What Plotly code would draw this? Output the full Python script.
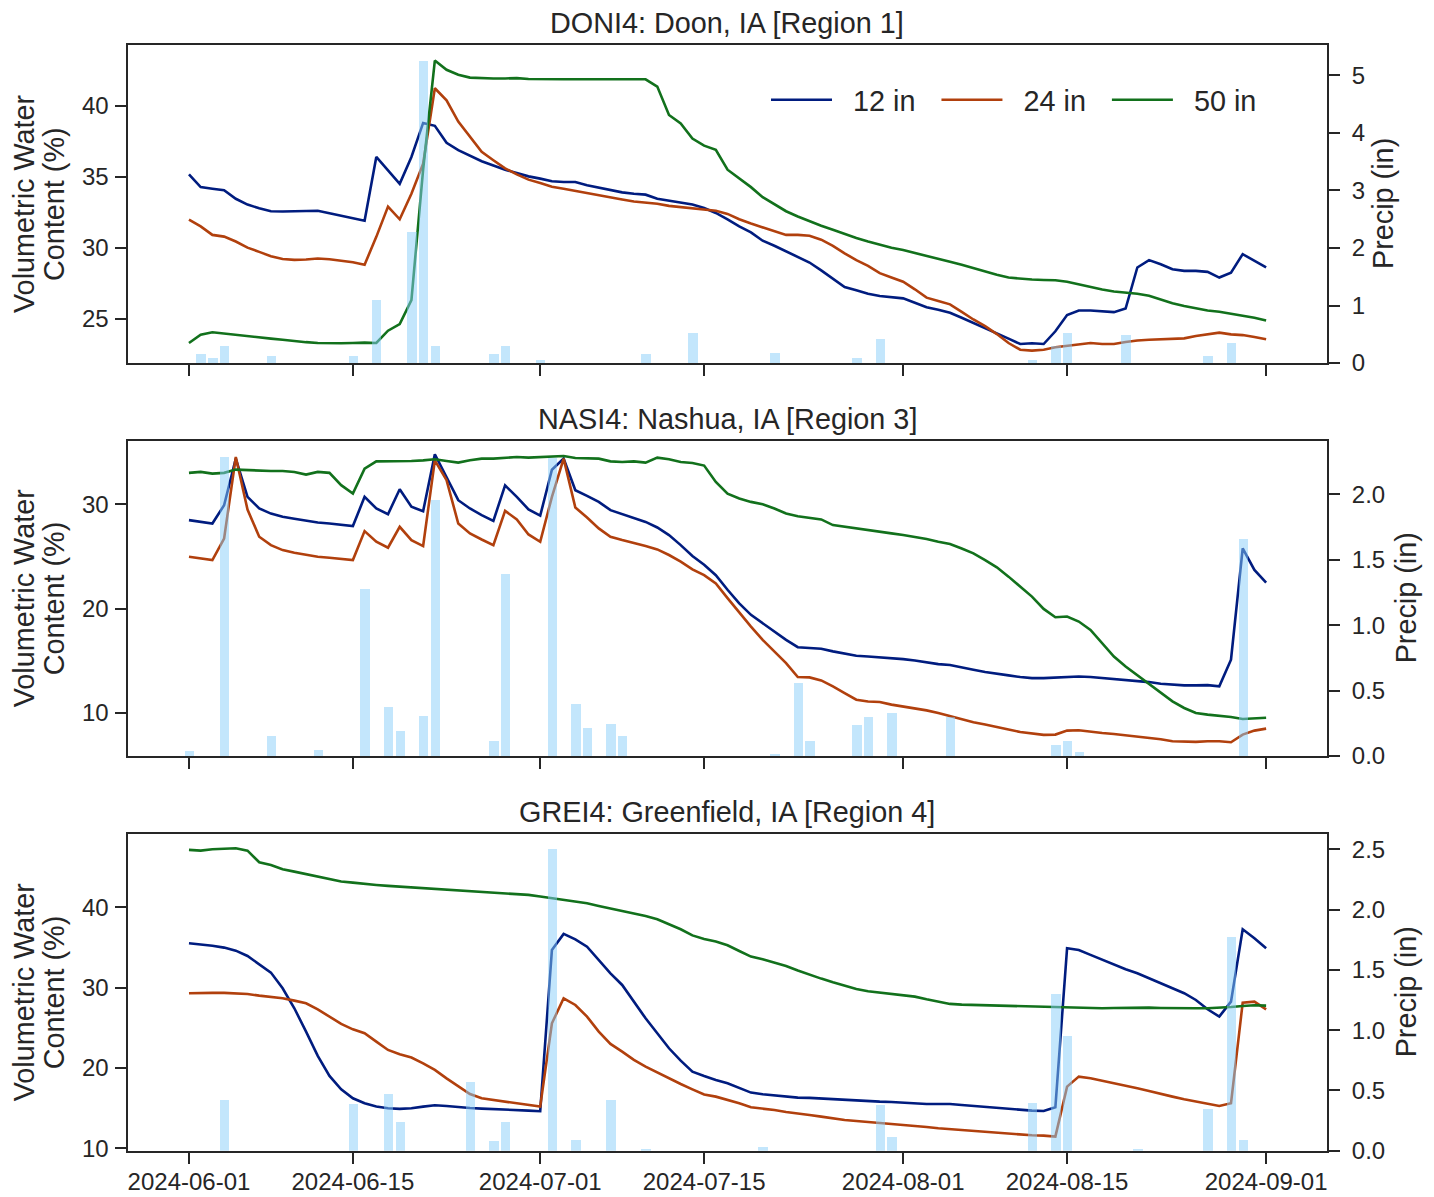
import pandas as pd
import plotly.graph_objects as go

# ---------------- data ----------------
dates = pd.date_range("2024-06-01", "2024-09-01", freq="D")
depth_labels = ["12 in", "24 in", "50 in"]
line_colors = ["#001C7F", "#B1400D", "#12711C"]

titles = ["DONI4: Doon, IA [Region 1]", "NASI4: Nashua, IA [Region 3]", "GREI4: Greenfield, IA [Region 4]"]

doni_12 = [35.17, 34.27, 34.16, 34.05, 33.45, 33.04, 32.78, 32.57, 32.55, 32.57,
           32.62, 32.6, 32.43, 32.27, 32.1, 31.9, 36.4, 35.46, 34.5, 36.4,
           38.8, 38.6, 37.4, 36.88, 36.5, 36.1, 35.8, 35.5, 35.27, 35.03,
           34.87, 34.68, 34.63, 34.63, 34.4, 34.23, 34.1, 33.9, 33.8, 33.74,
           33.45, 33.3, 33.16, 33.04, 32.8, 32.45, 32.0, 31.5, 31.08, 30.49,
           30.13, 29.73, 29.35, 28.95, 28.4, 27.84, 27.22, 27.0, 26.75, 26.59,
           26.52, 26.42, 26.11, 25.8, 25.62, 25.4, 25.05, 24.69, 24.34, 23.98,
           23.58, 23.2, 23.25, 23.2, 24.1, 25.24, 25.57, 25.57, 25.52, 25.45,
           25.7, 28.6, 29.12, 28.83, 28.48, 28.36, 28.36, 28.29, 27.89, 28.24,
           29.54, 29.07, 28.6]
doni_24 = [31.98, 31.5, 30.9, 30.78, 30.43, 30.0, 29.7, 29.4, 29.2, 29.14,
           29.16, 29.23, 29.18, 29.1, 28.97, 28.8, 30.76, 32.9, 32.0, 33.8,
           35.93, 41.25, 40.4, 38.9, 37.8, 36.76, 36.17, 35.6, 35.17, 34.8,
           34.56, 34.3, 34.16, 34.0, 33.85, 33.7, 33.56, 33.4, 33.26, 33.19,
           33.1, 32.95, 32.86, 32.8, 32.72, 32.6, 32.38, 32.0, 31.7, 31.44,
           31.15, 30.9, 30.9, 30.84, 30.56, 30.13, 29.6, 29.12, 28.72, 28.2,
           27.9, 27.6, 27.06, 26.47, 26.23, 26.0, 25.47, 24.93, 24.46, 23.9,
           23.27, 22.8, 22.73, 22.8, 22.97, 23.08, 23.2, 23.27, 23.2, 23.2,
           23.34, 23.45, 23.5, 23.54, 23.54, 23.6, 23.77, 23.9, 24.0, 23.88,
           23.83, 23.7, 23.54]
doni_50 = [23.27, 23.86, 24.03, 23.93, 23.87, 23.77, 23.68, 23.58, 23.5, 23.4,
           23.33, 23.27, 23.25, 23.25, 23.27, 23.3, 23.27, 24.14, 24.6, 26.3,
           35.5, 43.2, 42.55, 42.2, 42.0, 41.96, 41.94, 41.94, 41.96, 41.9,
           41.88, 41.88, 41.88, 41.88, 41.88, 41.88, 41.88, 41.88, 41.88, 41.88,
           41.37, 39.36, 38.77, 37.7, 37.2, 36.9, 35.5, 34.87, 34.27, 33.56,
           33.04, 32.57, 32.2, 31.86, 31.55, 31.27, 30.96, 30.68, 30.44, 30.2,
           30.0, 29.83, 29.61, 29.43, 29.19, 29.0, 28.79, 28.55, 28.31, 28.08,
           27.89, 27.8, 27.75, 27.72, 27.7, 27.6, 27.41, 27.18, 27.04, 26.9,
           26.82, 26.75, 26.6, 26.35, 26.07, 25.88, 25.71, 25.57, 25.48, 25.34,
           25.24, 25.05, 24.86]
doni_precip_dates = ["2024-06-02", "2024-06-03", "2024-06-04", "2024-06-08", "2024-06-15",
                     "2024-06-17", "2024-06-20", "2024-06-21", "2024-06-22", "2024-06-27",
                     "2024-06-28", "2024-07-01", "2024-07-10", "2024-07-14", "2024-07-21",
                     "2024-07-28", "2024-07-30", "2024-08-12", "2024-08-14", "2024-08-15",
                     "2024-08-20", "2024-08-27", "2024-08-29"]
doni_precip = [0.15, 0.08, 0.3, 0.13, 0.12, 1.1, 2.28, 5.25, 0.3, 0.16,
               0.3, 0.06, 0.16, 0.53, 0.18, 0.09, 0.41, 0.06, 0.29, 0.53,
               0.48, 0.13, 0.34]

nasi_12 = [28.47, 28.31, 28.15, 29.9, 34.36, 30.7, 29.59, 29.1, 28.79, 28.6,
           28.4, 28.25, 28.15, 28.03, 27.9, 30.7, 29.59, 29.04, 31.43, 29.75,
           29.33, 34.78, 32.6, 30.38, 29.59, 28.95, 28.4, 31.8, 30.7, 29.5,
           28.9, 33.3, 34.36, 31.34, 30.8, 30.22, 29.43, 29.04, 28.7, 28.3,
           27.77, 27.04, 26.08, 25.03, 24.2, 23.2, 21.8, 20.5, 19.4, 18.6,
           17.8, 17.0, 16.3, 16.2, 16.15, 15.9, 15.67, 15.48, 15.41, 15.35,
           15.25, 15.16, 15.03, 14.84, 14.68, 14.6, 14.4, 14.14, 13.92, 13.73,
           13.6, 13.44, 13.34, 13.34, 13.4, 13.5, 13.5, 13.44, 13.34, 13.25,
           13.18, 13.09, 12.96, 12.8, 12.7, 12.64, 12.64, 12.67, 12.55, 15.1,
           25.76, 23.7, 22.48]
nasi_24 = [24.97, 24.8, 24.65, 26.7, 34.52, 29.49, 26.88, 26.08, 25.6, 25.35,
           25.13, 24.97, 24.87, 24.78, 24.65, 27.42, 26.4, 25.83, 27.83, 26.56,
           25.99, 34.2, 32.3, 28.15, 27.2, 26.62, 26.08, 29.36, 28.54, 27.1,
           26.4, 30.7, 34.36, 29.68, 28.73, 27.68, 26.88, 26.56, 26.3, 25.99,
           25.67, 25.13, 24.49, 23.76, 23.2, 22.4, 21.0, 19.6, 18.28, 17.0,
           15.89, 14.78, 13.44, 13.41, 13.12, 12.55, 11.9, 11.27, 11.1, 11.05,
           10.8, 10.64, 10.48, 10.25, 10.0, 9.68, 9.43, 9.11, 8.9, 8.63,
           8.41, 8.18, 8.03, 7.9, 7.93, 8.31, 8.34, 8.25, 8.09, 7.99,
           7.87, 7.77, 7.64, 7.48, 7.29, 7.23, 7.23, 7.29, 7.29, 7.2,
           7.93, 8.31, 8.5]
nasi_50 = [33.0, 33.09, 32.93, 33.0, 33.31, 33.25, 33.18, 33.18, 33.18, 33.09,
           32.83, 33.09, 33.0, 31.82, 31.02, 33.4, 34.1, 34.1, 34.14, 34.14,
           34.2, 34.3, 34.14, 33.98, 34.2, 34.36, 34.36, 34.46, 34.52, 34.46,
           34.52, 34.59, 34.62, 34.43, 34.43, 34.36, 34.1, 34.04, 34.1, 33.98,
           34.46, 34.3, 34.04, 33.95, 33.7, 32.13, 31.0, 30.54, 30.22, 30.0,
           29.59, 29.11, 28.85, 28.66, 28.54, 28.0, 27.83, 27.64, 27.52, 27.36,
           27.2, 27.04, 26.88, 26.66, 26.4, 26.18, 25.76, 25.29, 24.65, 23.95,
           23.06, 22.1, 21.15, 19.97, 19.17, 19.24, 18.76, 17.96, 16.69, 15.41,
           14.46, 13.6, 12.8, 11.91, 11.11, 10.48, 10.0, 9.84, 9.75, 9.62,
           9.43, 9.52, 9.55]
nasi_precip_dates = ["2024-06-01", "2024-06-04", "2024-06-08", "2024-06-12", "2024-06-16",
                     "2024-06-18", "2024-06-19", "2024-06-21", "2024-06-22", "2024-06-27",
                     "2024-06-28", "2024-07-02", "2024-07-04", "2024-07-05", "2024-07-07",
                     "2024-07-08", "2024-07-21", "2024-07-23", "2024-07-24", "2024-07-28",
                     "2024-07-29", "2024-07-31", "2024-08-05", "2024-08-14", "2024-08-15",
                     "2024-08-16", "2024-08-30"]
nasi_precip = [0.04, 2.29, 0.155, 0.05, 1.28, 0.38, 0.19, 0.305, 1.96, 0.12,
               1.39, 2.28, 0.40, 0.22, 0.25, 0.155, 0.015, 0.56, 0.12, 0.24,
               0.30, 0.33, 0.30, 0.085, 0.12, 0.035, 1.66]

grei_12 = [35.52, 35.4, 35.2, 34.98, 34.6, 33.94, 32.95, 31.87, 29.92, 27.43,
           24.52, 21.5, 19.0, 17.34, 16.22, 15.6, 15.19, 14.98, 14.9, 14.98,
           15.19, 15.35, 15.27, 15.1, 15.02, 14.94, 14.9, 14.77, 14.73, 14.69,
           14.61, 34.69, 36.68, 36.0, 35.1, 33.44, 31.78, 30.33, 28.26, 26.18,
           24.31, 22.45, 20.91, 19.54, 19.0, 18.5, 18.1, 17.47, 16.93, 16.72,
           16.56, 16.43, 16.31, 16.27, 16.18, 16.1, 16.02, 15.93, 15.89, 15.81,
           15.77, 15.68, 15.6, 15.52, 15.52, 15.52, 15.39, 15.27, 15.1, 14.98,
           14.9, 14.77, 14.69, 14.65, 15.1, 34.9, 34.69, 34.07, 33.44, 32.82,
           32.28, 31.78, 31.16, 30.54, 30.0, 29.3, 28.46, 27.3, 26.39, 28.26,
           37.26, 36.14, 34.9]
grei_24 = [29.29, 29.34, 29.34, 29.34, 29.29, 29.2, 29.0, 28.88, 28.67, 28.38,
           28.05, 27.3, 26.39, 25.48, 24.81, 24.32, 23.28, 22.24, 21.7, 21.29,
           20.58, 19.75, 18.71, 17.68, 16.76, 16.22, 16.02, 15.81, 15.6, 15.39,
           15.19, 25.56, 28.67, 27.84, 26.39, 24.52, 22.99, 22.03, 21.0, 20.17,
           19.42, 18.71, 18.0, 17.34, 16.7, 16.43, 16.04, 15.6, 15.1, 14.94,
           14.77, 14.52, 14.36, 14.15, 13.94, 13.69, 13.53, 13.4, 13.28, 13.2,
           13.07, 12.95, 12.82, 12.66, 12.49, 12.37, 12.28, 12.2, 12.08, 11.95,
           11.83, 11.74, 11.62, 11.58, 11.45, 17.68, 18.92, 18.71, 18.42, 18.09,
           17.8, 17.47, 17.14, 16.76, 16.43, 16.1, 15.81, 15.52, 15.27, 15.6,
           28.13, 28.26, 27.3]
grei_50 = [47.14, 47.05, 47.22, 47.3, 47.34, 47.05, 45.6, 45.27, 44.73, 44.44,
           44.15, 43.82, 43.49, 43.2, 43.07, 42.9, 42.78, 42.66, 42.57, 42.45,
           42.37, 42.28, 42.2, 42.12, 42.03, 41.95, 41.87, 41.78, 41.7, 41.54,
           41.33, 41.12, 41.0, 40.79, 40.5, 40.17, 39.88, 39.59, 39.25, 38.92,
           38.51, 37.93, 37.26, 36.5, 36.06, 35.73, 35.27, 34.56, 33.86, 33.53,
           33.15, 32.7, 32.12, 31.58, 31.12, 30.66, 30.25, 29.83, 29.54, 29.38,
           29.29, 29.13, 28.88, 28.55, 28.22, 27.97, 27.88, 27.84, 27.8, 27.72,
           27.68, 27.63, 27.59, 27.55, 27.55, 27.51, 27.47, 27.43, 27.43, 27.47,
           27.51, 27.51, 27.51, 27.47, 27.43, 27.43, 27.43, 27.43, 27.47, 27.59,
           27.72, 27.8, 27.76]
grei_precip_dates = ["2024-06-04", "2024-06-15", "2024-06-18", "2024-06-19", "2024-06-25",
                     "2024-06-27", "2024-06-28", "2024-07-02", "2024-07-04", "2024-07-07",
                     "2024-07-10", "2024-07-20", "2024-07-30", "2024-07-31", "2024-08-12",
                     "2024-08-14", "2024-08-15", "2024-08-21", "2024-08-27", "2024-08-29",
                     "2024-08-30"]
grei_precip = [0.42, 0.39, 0.47, 0.24, 0.57, 0.08, 0.24, 2.5, 0.09, 0.42,
               0.01, 0.03, 0.38, 0.11, 0.395, 1.3, 0.95, 0.015, 0.345, 1.77,
               0.09]

x_tick_vals = ["2024-06-01", "2024-06-15", "2024-07-01", "2024-07-15",
               "2024-08-01", "2024-08-15", "2024-09-01"]
left_ticks = [[25, 30, 35, 40], [10, 20, 30], [10, 20, 30, 40]]
right_ticks = [[0, 1, 2, 3, 4, 5], [0, 0.5, 1.0, 1.5, 2.0], [0, 0.5, 1.0, 1.5, 2.0, 2.5]]
right_formats = ["d", ".1f", ".1f"]
left_ranges = [[21.86, 44.3], [5.88, 36.08], [9.7, 49.12]]
right_ranges = [[0, 5.53], [0, 2.41], [0, 2.627]]

stations = [
    (doni_12, doni_24, doni_50, doni_precip_dates, doni_precip),
    (nasi_12, nasi_24, nasi_50, nasi_precip_dates, nasi_precip),
    (grei_12, grei_24, grei_50, grei_precip_dates, grei_precip),
]

# ---------------- layout geometry (page pixels) ----------------
W, H = 1434, 1197
FONT = "Liberation Sans, Arial, Helvetica, sans-serif"
INK = "#262626"
TICK_SIZE = 24
LABEL_SIZE = 28.8

def fx(px):
    return px / W

def fy(py):
    return 1 - py / H

PLOT_L, PLOT_R = 127.5, 1327
panels_px = [(45, 363), (440.7, 756), (834, 1150.7)]
precip_title_x = [1383, 1406, 1406]
x_range = ["2024-05-26 18:00", "2024-09-06 04:48"]
DAY_MS = 86400000
PAD = "\u00a0\u00a0"

fig = go.Figure()
layout = dict(
    width=W, height=H, autosize=False,
    margin=dict(l=0, r=0, t=0, b=0, pad=0),
    paper_bgcolor="white", plot_bgcolor="white",
    font=dict(family=FONT, color=INK, size=TICK_SIZE),
    showlegend=True,
    bargap=0,
)
annotations = []

for i, (v12, v24, v50, pdates, pvals) in enumerate(stations):
    n = i + 1
    top, bot = panels_px[i]
    xname = "x" if n == 1 else f"x{n}"
    yl = 2 * n - 1
    yr = 2 * n
    ylname = "y" if yl == 1 else f"y{yl}"
    yrname = f"y{yr}"

    for vals, lab, col in zip((v12, v24, v50), depth_labels, line_colors):
        fig.add_trace(go.Scatter(
            x=dates, y=vals, mode="lines", name=PAD + lab + PAD,
            line=dict(color=col, width=2.6),
            xaxis=xname, yaxis=ylname,
            showlegend=(n == 1), legendgroup=lab,
        ))
    fig.add_trace(go.Bar(
        x=pd.to_datetime(pdates), y=pvals, width=0.8 * DAY_MS,
        marker=dict(color="rgba(135,206,250,0.5)", line=dict(width=0)),
        xaxis=xname, yaxis=yrname, showlegend=False, name="Precip",
    ))

    axis_common = dict(
        showgrid=False, zeroline=False, showline=True, linewidth=2, linecolor=INK,
        ticks="outside", ticklen=11, tickwidth=2, tickcolor=INK, automargin=False,
        tickfont=dict(size=TICK_SIZE, color=INK, family=FONT),
    )
    layout["xaxis" if n == 1 else f"xaxis{n}"] = dict(
        axis_common, domain=[fx(PLOT_L), fx(PLOT_R)], anchor=ylname,
        type="date", range=x_range, tickvals=x_tick_vals, ticktext=x_tick_vals,
        showticklabels=(n == 3), mirror=True, ticklabelstandoff=-3,
    )
    layout["yaxis" if yl == 1 else f"yaxis{yl}"] = dict(
        axis_common, domain=[fy(bot), fy(top)], anchor=xname,
        range=left_ranges[i], tickvals=left_ticks[i], mirror=True, side="left",
        ticklabelstandoff=1,
    )
    layout[f"yaxis{yr}"] = dict(
        axis_common, domain=[fy(bot), fy(top)], anchor=xname, overlaying=ylname,
        side="right", range=right_ranges[i], tickvals=right_ticks[i],
        tickformat=right_formats[i], ticklabelstandoff=7,
    )

    mid = (top + bot) / 2
    annotations.append(dict(
        text=titles[i], xref="paper", yref="paper", x=fx((PLOT_L + PLOT_R) / 2),
        y=fy(top), xanchor="center", yanchor="bottom", yshift=4, showarrow=False,
        font=dict(size=LABEL_SIZE, color=INK, family=FONT),
    ))
    annotations.append(dict(
        text="Volumetric Water", xref="paper", yref="paper", x=fx(24), y=fy(mid),
        xanchor="center", yanchor="middle", textangle=-90, showarrow=False,
        font=dict(size=LABEL_SIZE, color=INK, family=FONT),
    ))
    annotations.append(dict(
        text="Content (%)", xref="paper", yref="paper", x=fx(54), y=fy(mid),
        xanchor="center", yanchor="middle", textangle=-90, showarrow=False,
        font=dict(size=LABEL_SIZE, color=INK, family=FONT),
    ))
    annotations.append(dict(
        text="Precip (in)", xref="paper", yref="paper", x=fx(precip_title_x[i]), y=fy(mid),
        xanchor="center", yanchor="middle", textangle=-90, showarrow=False,
        font=dict(size=LABEL_SIZE, color=INK, family=FONT),
    ))

layout["annotations"] = annotations
layout["legend"] = dict(
    orientation="h", x=fx(766), xanchor="left", y=fy(100), yanchor="middle",
    bgcolor="rgba(0,0,0,0)", borderwidth=0,
    font=dict(size=LABEL_SIZE, color=INK, family=FONT),
    itemwidth=61, tracegroupgap=0,
)
fig.update_layout(**layout)
fig.write_html(
    "out.html",
    config={"displayModeBar": False},
    post_script="document.body.style.margin='0';document.body.style.overflow='hidden';",
)
